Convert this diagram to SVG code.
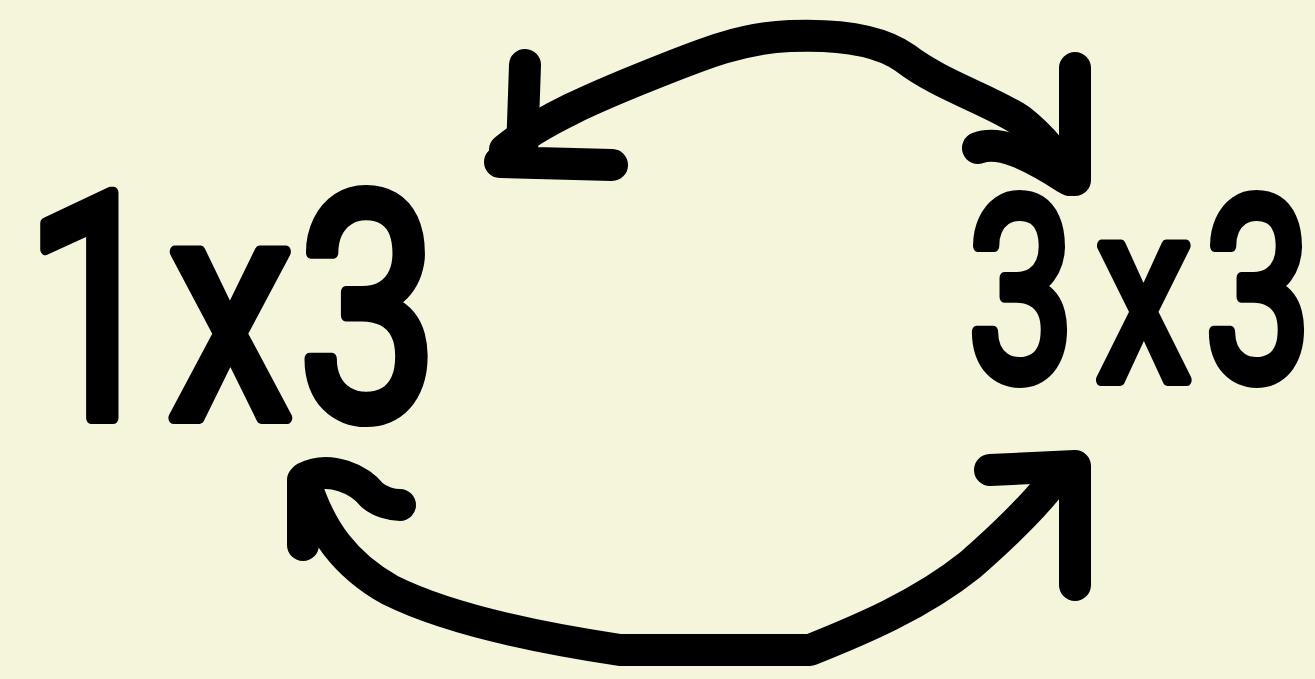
<svg xmlns="http://www.w3.org/2000/svg" width="1315" height="679" viewBox="0 0 1315 679">
<style>
.lbl{font-family:Roboto,"Noto Sans",sans-serif;font-weight:normal;fill:#000;stroke:#000;stroke-width:12px;stroke-linejoin:round;stroke-linecap:round}
.ln{fill:none;stroke:#000;stroke-width:32;stroke-linecap:round;stroke-linejoin:round}
</style>
<rect width="1315" height="679" fill="#f5f5dc"/>
<g id="node-1x3">
<text class="lbl" font-size="315" transform="translate(0,418) scale(0.8,1)"><tspan x="30">1</tspan><tspan x="210">x</tspan><tspan x="372">3</tspan></text>
</g>
<g id="node-3x3">
<text class="lbl" font-size="255" transform="translate(0,380) scale(0.75,1)"><tspan x="1290">3</tspan><tspan x="1462">x</tspan><tspan x="1606">3</tspan></text>
</g>
<g id="connectors">
<path class="ln" d="M505,150 C540,120 600,95 650,75 C700,55 740,38 790,36 C840,34 880,40 905,58 C940,85 990,100 1020,120 C1045,140 1060,160 1070,180"/>
<path class="ln" d="M525,65 L522,152 M500,162 L612,165"/>
<path class="ln" d="M1075,68 L1075,180 M978,148 C1000,140 1030,155 1066,178"/>
<path class="ln" d="M305,482 C320,530 345,565 390,590 C440,615 520,635 620,650 L810,650 C860,630 920,605 970,565 C1010,530 1040,500 1060,472"/>
<path class="ln" d="M303,480 L303,545 M305,478 C330,465 360,480 372,495 C380,502 392,505 400,505"/>
<path class="ln" d="M990,470 L1075,466 L1075,585"/>
</g>
</svg>
